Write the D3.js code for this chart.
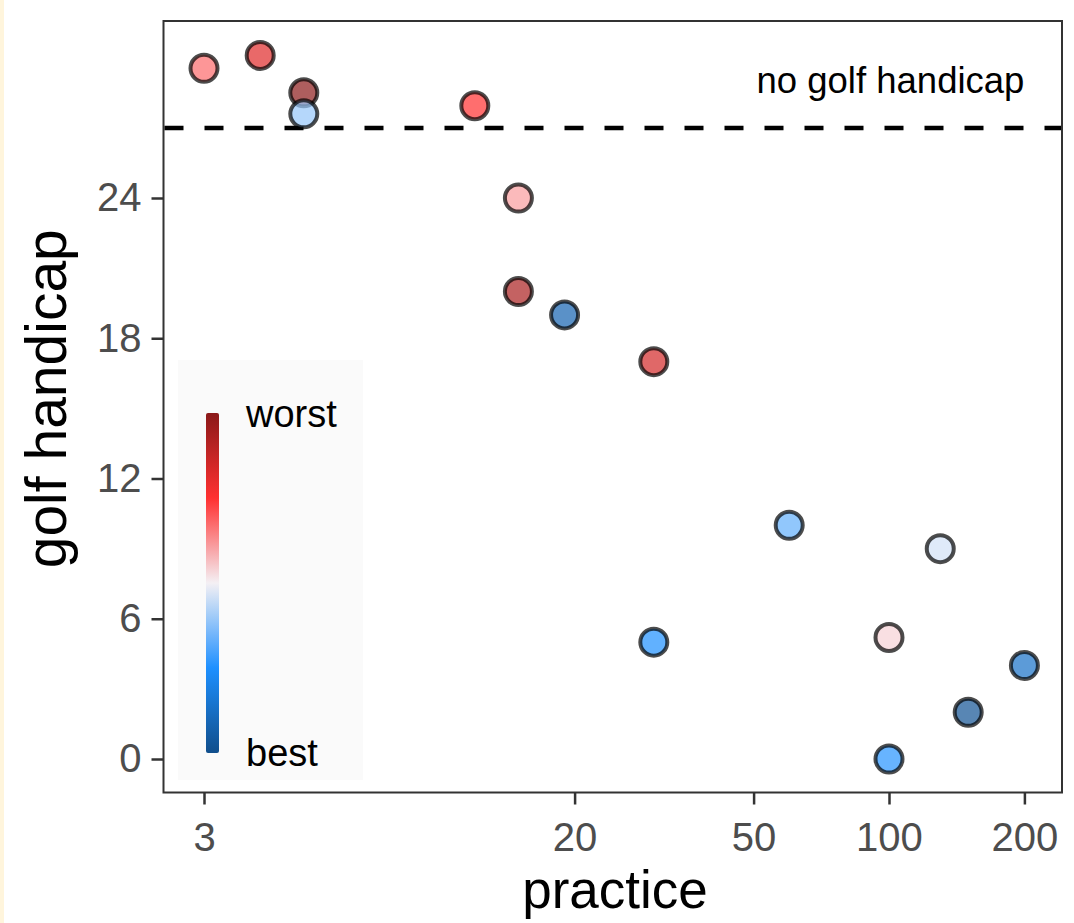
<!DOCTYPE html>
<html>
<head>
<meta charset="utf-8">
<script src="https://cdn.jsdelivr.net/npm/d3@7"></script>
<style>
  html, body { margin: 0; padding: 0; background: #ffffff; }
  svg { display: block; }
  text { font-family: "Liberation Sans", Arial, Helvetica, sans-serif; }
</style>
</head>
<body>
<svg id="chart" width="1074" height="923"></svg>
<script>
// Weekly practice (log axis) against golf handicap for each player.
const practice = [3, 4, 5, 5, 12, 15, 15, 19, 30, 60, 130, 30, 100, 150, 200, 100];
// null = player has no handicap yet
const handicap = [null, null, null, null, null, 24, 20, 19, 17, 10, 9, 5, 5.2, 2, 4, 0];
// row positions used for players without a handicap (spread above the cut-off)
const noHandicapRow = [29.55, 30.1, 28.5, 27.6, 27.95];
// self-rated form: 0 = best, 1 = worst
const rating = [0.675, 0.82, 1.0, 0.39, 0.75, 0.61, 0.93, 0.08, 0.845, 0.33, 0.46, 0.25, 0.54, 0.02, 0.13, 0.26];

const xTicks = [3, 20, 50, 100, 200];
const yTicks = [0, 6, 12, 18, 24];
const cutoff = 27;
const ratingStops = [0, 0.25, 0.5, 0.75, 1];
const ratingColors = ["#104E8B", "#1E90FF", "#F4F0F4", "#FF3030", "#8B1A1A"];
const legendLabels = ["worst", "best"];

const svg = d3.select("#chart");
const W = 1074, H = 923;
const panel = { left: 163.5, right: 1062, top: 21, bottom: 792.5 };

svg.append("rect").attr("width", W).attr("height", H).attr("fill", "#ffffff");
svg.append("rect").attr("x", 0).attr("y", 0).attr("width", 4).attr("height", H).attr("fill", "#FFF5DC");

const x = d3.scaleLog().domain([3, 200]).range([204, 1024.4]);
const y = d3.scaleLinear().domain([0, 24]).range([759, 198]);
const color = d3.scaleLinear().domain(ratingStops).range(ratingColors).interpolate(d3.interpolateRgb);

// axes
const tickLen = 12;
const xAxis = svg.append("g")
  .attr("transform", `translate(0,${panel.bottom})`)
  .call(d3.axisBottom(x).tickValues(xTicks).tickFormat(d3.format("d")).tickSize(tickLen).tickPadding(18));
const yAxis = svg.append("g")
  .attr("transform", `translate(${panel.left},0)`)
  .call(d3.axisLeft(y).tickValues(yTicks).tickFormat(d3.format("d")).tickSize(tickLen).tickPadding(10));
[xAxis, yAxis].forEach(g => {
  g.select(".domain").remove();
  g.selectAll(".tick line").attr("stroke", "#333333").attr("stroke-width", 2.5);
  g.selectAll(".tick text").attr("fill", "#4D4D4D").attr("font-size", 40)
    .attr("font-family", "'Liberation Sans', Arial, sans-serif");
});

// panel border
svg.append("rect")
  .attr("x", panel.left).attr("y", panel.top)
  .attr("width", panel.right - panel.left).attr("height", panel.bottom - panel.top)
  .attr("fill", "none").attr("stroke", "#333333").attr("stroke-width", 2);

// cut-off line for players without a handicap
svg.append("line")
  .attr("x1", panel.left + 1).attr("x2", panel.right - 1)
  .attr("y1", y(cutoff)).attr("y2", y(cutoff))
  .attr("stroke", "#000").attr("stroke-width", 4.5).attr("stroke-dasharray", "19 21");

svg.append("text")
  .attr("x", x(200)).attr("y", 93)
  .attr("text-anchor", "end").attr("font-size", 36.5).attr("fill", "#000")
  .text("no golf handicap");

// legend
const lg = svg.append("g");
lg.append("rect").attr("x", 178).attr("y", 360).attr("width", 185).attr("height", 420).attr("fill", "#FAFAFA");
const grad = svg.append("defs").append("linearGradient")
  .attr("id", "ratingGrad").attr("x1", 0).attr("x2", 0).attr("y1", 1).attr("y2", 0);
d3.range(0, 1.0001, 0.05).forEach(t => {
  grad.append("stop").attr("offset", t).attr("stop-color", color(t));
});
lg.append("rect").attr("x", 206).attr("y", 413).attr("width", 13).attr("height", 340)
  .attr("rx", 2).attr("fill", "url(#ratingGrad)");
lg.append("text").attr("x", 246).attr("y", 427).attr("font-size", 38).attr("fill", "#000").text(legendLabels[0]);
lg.append("text").attr("x", 246).attr("y", 766).attr("font-size", 38).attr("fill", "#000").text(legendLabels[1]);

// points
let k = 0;
const players = practice.map((p, i) => ({
  practice: p,
  yVal: handicap[i] === null ? noHandicapRow[k++] : handicap[i],
  rating: rating[i]
}));
svg.append("g").selectAll("circle").data(players).join("circle")
  .attr("cx", d => x(d.practice))
  .attr("cy", d => y(d.yVal))
  .attr("r", 13.5)
  .attr("fill", d => color(d.rating))
  .attr("fill-opacity", 0.7)
  .attr("stroke", "#000")
  .attr("stroke-opacity", 0.7)
  .attr("stroke-width", 4);

// axis titles
svg.append("text")
  .attr("x", 615).attr("y", 908)
  .attr("text-anchor", "middle").attr("font-size", 53).attr("fill", "#000")
  .text("practice");
svg.append("text")
  .attr("transform", `translate(66,${(panel.top + panel.bottom) / 2 - 8}) rotate(-90)`)
  .attr("text-anchor", "middle").attr("font-size", 57).attr("fill", "#000")
  .text("golf handicap");
</script>
</body>
</html>
